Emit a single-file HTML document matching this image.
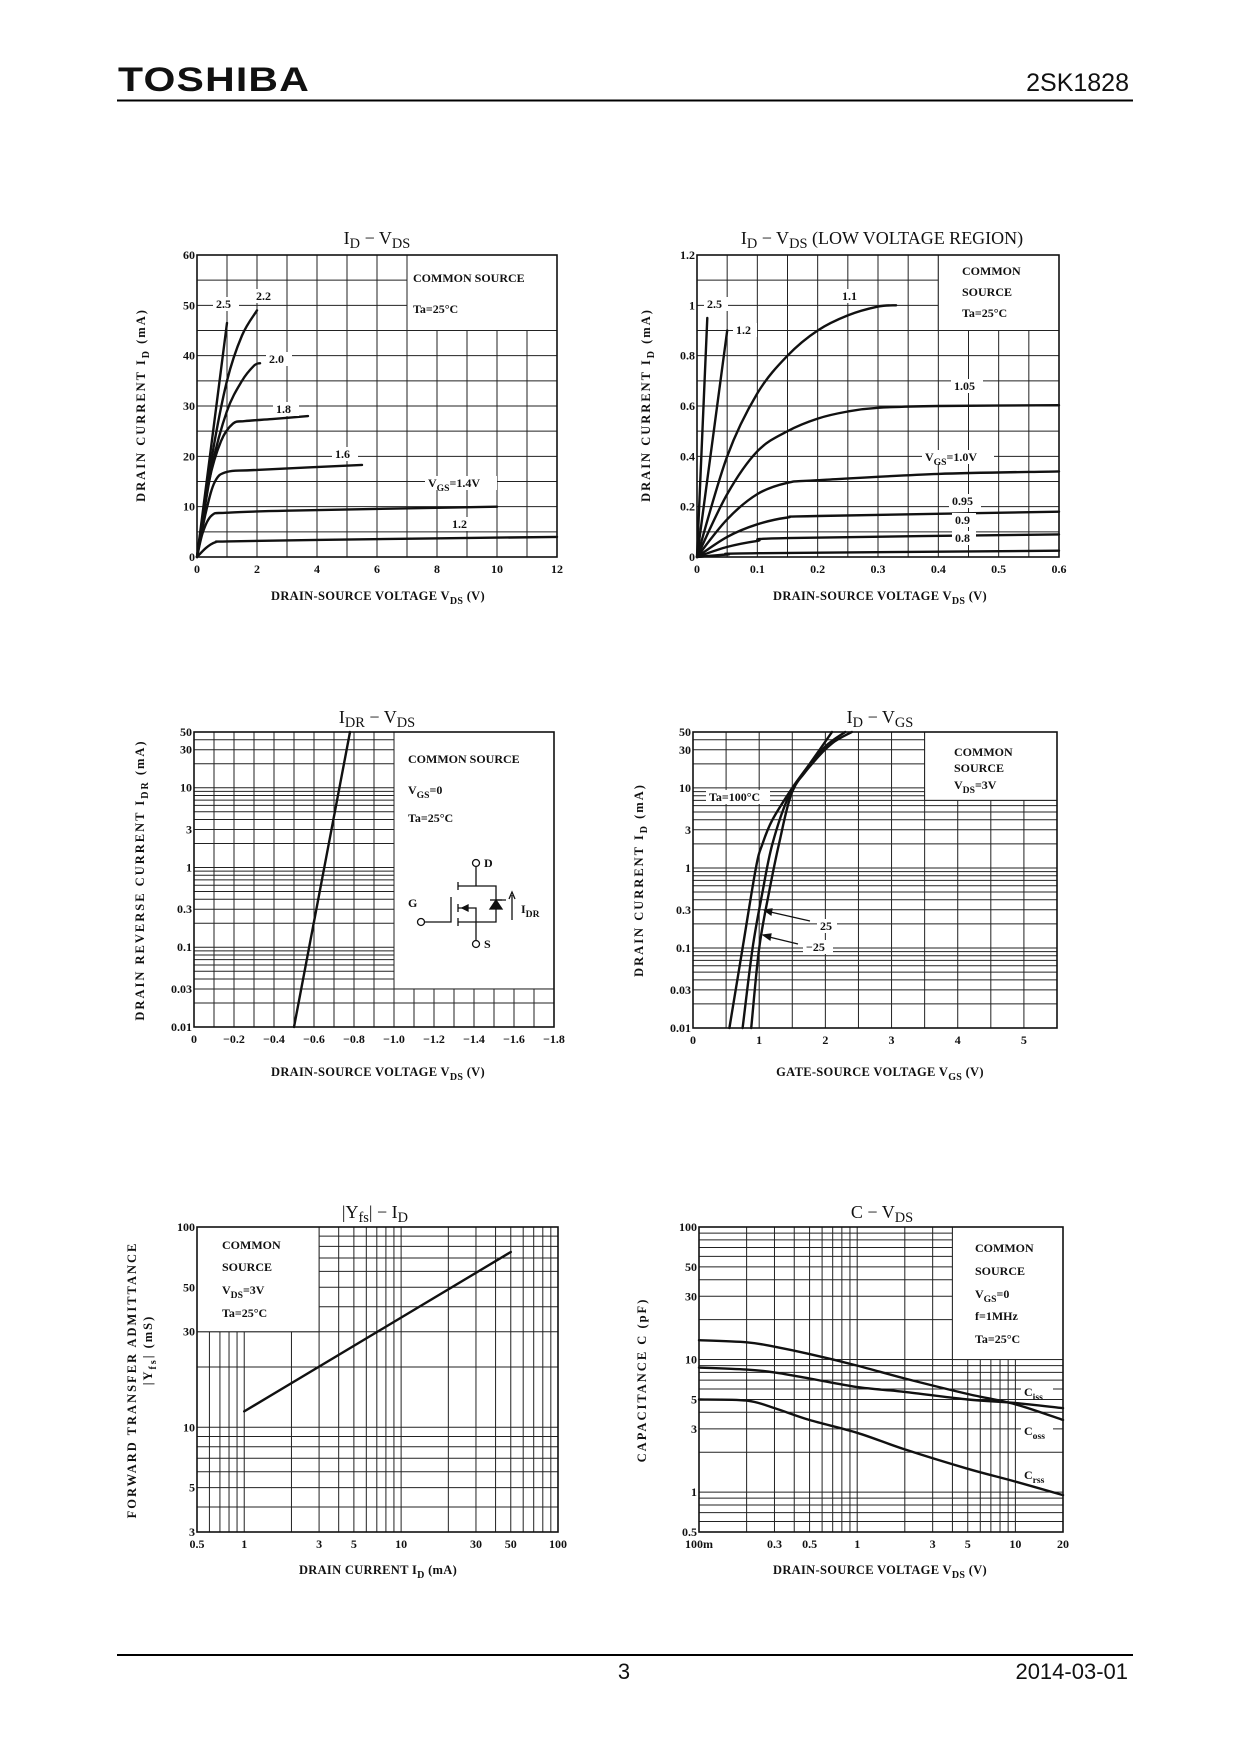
<!DOCTYPE html>
<html><head><meta charset="utf-8"><style>
html,body{margin:0;padding:0;background:#fff}
svg{display:block}
text{font-family:"Liberation Serif",serif;fill:#111}
.t{font-weight:bold;font-size:12px}
.tt{font-size:18px}
.ax{font-size:12.5px;font-weight:bold;letter-spacing:0.3px}
</style></head><body>
<svg id="page" width="1240" height="1754" viewBox="0 0 1240 1754" xmlns="http://www.w3.org/2000/svg">
<text x="118" y="91" style="font-family:'Liberation Sans',sans-serif;font-weight:bold;font-size:34px;letter-spacing:1px" textLength="192" lengthAdjust="spacingAndGlyphs">TOSHIBA</text>
<text x="1129" y="91" text-anchor="end" style="font-family:'Liberation Sans',sans-serif;font-size:25px">2SK1828</text>
<line x1="117" y1="100.5" x2="1133" y2="100.5" stroke="#000" stroke-width="2"/>
<line x1="117" y1="1655" x2="1133" y2="1655" stroke="#000" stroke-width="2"/>
<text x="624" y="1679" text-anchor="middle" style="font-family:'Liberation Sans',sans-serif;font-size:22px">3</text>
<text x="1128" y="1679" text-anchor="end" style="font-family:'Liberation Sans',sans-serif;font-size:22px">2014-03-01</text>
<g id="charts"></g>
</svg>
<script>
// ---- Chart 1: ID - VDS ----
const c1_vgs = ["2.5","2.2","2.0","1.8","1.6","1.4","1.2"];
const c1_v25_x=[0,1.0], c1_v25_y=[0,46.5];
const c1_v22_x=[0,0.5,1,1.5,2], c1_v22_y=[0,20,35,44,49];
const c1_v20_x=[0,0.5,1,1.5,1.9,2.1], c1_v20_y=[0,18,29,35,38,38.5];
const c1_v18_x=[0,0.4,0.8,1.2,1.6,2.5,3.7], c1_v18_y=[0,15,23,26.5,27,27.4,28];
const c1_v16_x=[0,0.3,0.6,1,2,5.5], c1_v16_y=[0,9,15,16.9,17.3,18.3];
const c1_v14_x=[0,0.2,0.5,1,3,10], c1_v14_y=[0,5,8.3,8.8,9.2,10];
const c1_v12_x=[0,0.3,0.6,1,4,12], c1_v12_y=[0,1.8,2.9,3.1,3.4,4];
const c1_xticks=[0,2,4,6,8,10,12], c1_yticks=[0,10,20,30,40,50,60];
// ---- Chart 2: low voltage ----
const c2_v25_x=[0,0.017], c2_v25_y=[0,0.95];
const c2_v12_x=[0,0.05], c2_v12_y=[0,0.9];
const c2_v11_x=[0,0.05,0.1,0.15,0.2,0.25,0.3,0.33], c2_v11_y=[0,0.4,0.65,0.8,0.9,0.96,0.995,1.0];
const c2_v105_x=[0,0.05,0.1,0.15,0.2,0.25,0.3,0.4,0.6], c2_v105_y=[0,0.25,0.42,0.5,0.55,0.578,0.593,0.6,0.603];
const c2_v10_x=[0,0.05,0.1,0.15,0.2,0.4,0.6], c2_v10_y=[0,0.15,0.25,0.295,0.305,0.33,0.34];
const c2_v095_x=[0,0.05,0.1,0.15,0.2,0.6], c2_v095_y=[0,0.08,0.13,0.157,0.163,0.18];
const c2_v09_x=[0,0.05,0.1,0.15,0.6], c2_v09_y=[0,0.04,0.064,0.075,0.09];
const c2_v08_x=[0,0.05,0.1,0.6], c2_v08_y=[0,0.01,0.015,0.025];
const c2_xticks=[0,0.1,0.2,0.3,0.4,0.5,0.6], c2_yticks=[0,0.2,0.4,0.6,0.8,1.0,1.2];
// ---- Chart 3: IDR - VDS ----
const c3_x=[-0.5,-0.78], c3_y=[0.01,50];
const c3_xticks=[0,-0.2,-0.4,-0.6,-0.8,-1.0,-1.2,-1.4,-1.6,-1.8];
const c3_xlabels=["0","\u22120.2","\u22120.4","\u22120.6","\u22120.8","\u22121.0","\u22121.2","\u22121.4","\u22121.6","\u22121.8"];
const c3_yticks=[0.01,0.03,0.1,0.3,1,3,10,30,50];
// ---- Chart 4: ID - VGS ----
const c4_t100_x=[0.55,0.75,0.95,1.05,1.2,1.5,1.8,2.1], c4_t100_y=[0.01,0.1,1,2,4,10,22,50];
const c4_t25_x=[0.75,0.9,1.05,1.2,1.45,1.7,2.0,2.3], c4_t25_y=[0.01,0.1,0.5,2,8,16,33,50];
const c4_tm25_x=[0.88,1.0,1.15,1.3,1.5,1.8,2.1,2.4], c4_tm25_y=[0.01,0.1,0.5,2,9,20,36,50];
const c4_xticks=[0,1,2,3,4,5], c4_yticks=[0.01,0.03,0.1,0.3,1,3,10,30,50];
// ---- Chart 5: |Yfs| - ID ----
const c5_x=[1,50], c5_y=[12,75];
const c5_xticks=[0.5,1,3,5,10,30,50,100], c5_yticks=[3,5,10,30,50,100];
// ---- Chart 6: C - VDS ----
const c6_vds=[0.1,0.2,0.3,0.5,1,2,5,10,20];
const c6_ciss=[14,13.5,12.5,11,9,7.2,5.5,4.6,3.5];
const c6_coss=[8.7,8.4,8,7.2,6.2,5.7,5,4.7,4.3];
const c6_crss=[5,4.9,4.3,3.5,2.8,2.1,1.5,1.2,0.95];
const c6_xticks=[0.1,0.3,0.5,1,3,5,10,20], c6_xlabels=["100m","0.3","0.5","1","3","5","10","20"];
const c6_yticks=[0.5,1,3,5,10,30,50,100];

const NS="http://www.w3.org/2000/svg";
const root=document.getElementById('charts');
function el(tag,attrs,parent){const e=document.createElementNS(NS,tag);for(const k in attrs)e.setAttribute(k,attrs[k]);(parent||root).appendChild(e);return e;}
function mkScale(type,d0,d1,r0,r1){
  if(type==='log'){const a=Math.log10(d0),b=Math.log10(d1);return v=>r0+(Math.log10(v)-a)/(b-a)*(r1-r0);}
  return v=>r0+(v-d0)/(d1-d0)*(r1-r0);
}
function logGrid(a,b){const out=[];for(let e=Math.floor(Math.log10(a));e<=Math.ceil(Math.log10(b));e++){for(let m=1;m<10;m++){const v=m*Math.pow(10,e);if(v>=a*0.999&&v<=b*1.001)out.push(v);}}return out;}
function linGrid(a,b,s){const out=[];for(let v=a;v<=b+1e-9;v+=s)out.push(+v.toFixed(6));return out;}
function pathFrom(pts){
  if(pts.length<3){return 'M'+pts.map(p=>p[0].toFixed(1)+','+p[1].toFixed(1)).join('L');}
  let d='M'+pts[0][0].toFixed(1)+','+pts[0][1].toFixed(1);
  for(let i=0;i<pts.length-1;i++){
    const p0=pts[Math.max(0,i-1)],p1=pts[i],p2=pts[i+1],p3=pts[Math.min(pts.length-1,i+2)];
    const c1=[p1[0]+(p2[0]-p0[0])/6,p1[1]+(p2[1]-p0[1])/6],c2=[p2[0]-(p3[0]-p1[0])/6,p2[1]-(p3[1]-p1[1])/6];
    d+='C'+c1[0].toFixed(1)+','+c1[1].toFixed(1)+' '+c2[0].toFixed(1)+','+c2[1].toFixed(1)+' '+p2[0].toFixed(1)+','+p2[1].toFixed(1);
  }
  return d;
}
function txt(x,y,s,cls,anchor,name,size){
  const t=el('text',{x:x,y:y,'class':cls||'t','text-anchor':anchor||'start'});
  
  
  if(size)t.style.fontSize=size+'px';
  const parts=s.split(/(_\{[^}]*\})/);
  let sub=false;
  parts.forEach(p=>{if(!p)return;const ts=el('tspan',{},t);
    if(p.startsWith('_{')){ts.textContent=p.slice(2,-1);ts.setAttribute('dy','4');ts.style.fontSize='0.8em';sub=true;}
    else{ts.textContent=p;if(sub){ts.setAttribute('dy','-4');sub=false;}}
  });
  return t;
}
function bgLabel(x,y,s,name,w){
  const r=el('rect',{x:x-3,y:y-11,width:w,height:14,fill:'#fff'});
  
  
  txt(x,y,s,'t','start',name);
}
function chart(c){
  const g=el('g',{});
  
  
  const X=mkScale(c.xt,c.x0,c.x1,c.L,c.R), Y=mkScale(c.yt,c.y0,c.y1,c.B,c.T);
  c.xg.forEach(v=>{const l=el('line',{x1:X(v),x2:X(v),y1:c.T,y2:c.B,stroke:'#222','stroke-width':1},g);
    
    });
  c.yg.forEach(v=>{const l=el('line',{x1:c.L,x2:c.R,y1:Y(v),y2:Y(v),stroke:'#222','stroke-width':1},g);
    
    });
  if(c.box){const b=c.box;const r=el('rect',{x:X(b[0]),y:Y(b[3]),width:X(b[1])-X(b[0]),height:Y(b[2])-Y(b[3]),fill:'#fff',stroke:'#222','stroke-width':1},g);
    
    }
  const fr=el('rect',{x:c.L,y:c.T,width:c.R-c.L,height:c.B-c.T,fill:'none',stroke:'#111','stroke-width':1.6},g);
  
  
  c.series.forEach(s=>{
    const pts=s.x.map((v,i)=>[X(v),Y(s.y[i])]);
    const p=el('path',{d:pathFrom(pts),fill:'none',stroke:'#111','stroke-width':2.4,'stroke-linecap':'round'},g);
    
    
  });
  c.xticks.forEach((v,i)=>txt(X(v),c.B+16,c.xlabels?c.xlabels[i]:String(v),'t','middle','x-tick-label'));
  c.yticks.forEach((v,i)=>txt(c.L-2,Y(v)+4,String(v),'t','end','y-tick-label'));
  return {X,Y};
}
const lin='lin',lg='log';
chart({name:'chart-id-vds',xt:lin,yt:lin,x0:0,x1:12,y0:0,y1:60,L:197,R:557,T:255,B:557,
  xg:linGrid(0,12,1),yg:linGrid(0,60,5),box:[7,12,45,60],xticks:c1_xticks,yticks:c1_yticks,
  series:[{name:'curve-vgs-2.5',x:c1_v25_x,y:c1_v25_y},{name:'curve-vgs-2.2',x:c1_v22_x,y:c1_v22_y},{name:'curve-vgs-2.0',x:c1_v20_x,y:c1_v20_y},
  {name:'curve-vgs-1.8',x:c1_v18_x,y:c1_v18_y},{name:'curve-vgs-1.6',x:c1_v16_x,y:c1_v16_y},{name:'curve-vgs-1.4',x:c1_v14_x,y:c1_v14_y},{name:'curve-vgs-1.2',x:c1_v12_x,y:c1_v12_y}]});
bgLabel(216,308,c1_vgs[0],'label-vgs-2.5',26);bgLabel(256,300,c1_vgs[1],'label-vgs-2.2',26);
bgLabel(269,363,c1_vgs[2],'label-vgs-2.0',26);bgLabel(276,413,c1_vgs[3],'label-vgs-1.8',26);
bgLabel(335,458,c1_vgs[4],'label-vgs-1.6',26);bgLabel(428,487,'V_{GS}=1.4V','label-vgs-1.4',72);bgLabel(452,528,c1_vgs[6],'label-vgs-1.2',26);
txt(413,282,'COMMON SOURCE');txt(413,313,'Ta=25°C');
txt(377,244,'I_{D}  \u2212  V_{DS}','tt','middle','chart1-title');
txt(378,600,'DRAIN-SOURCE VOLTAGE   V_{DS}   (V)','ax','middle','chart1-x-title');
chart({name:'chart-id-vds-low',xt:lin,yt:lin,x0:0,x1:0.6,y0:0,y1:1.2,L:697,R:1059,T:255,B:557,
  xg:linGrid(0,0.6,0.05),yg:linGrid(0,1.2,0.1),box:[0.4,0.6,0.9,1.2],xticks:c2_xticks,yticks:c2_yticks,
  series:[{name:'curve-vgs-2.5',x:c2_v25_x,y:c2_v25_y},{name:'curve-vgs-1.2',x:c2_v12_x,y:c2_v12_y},{name:'curve-vgs-1.1',x:c2_v11_x,y:c2_v11_y},
  {name:'curve-vgs-1.05',x:c2_v105_x,y:c2_v105_y},{name:'curve-vgs-1.0',x:c2_v10_x,y:c2_v10_y},{name:'curve-vgs-0.95',x:c2_v095_x,y:c2_v095_y},
  {name:'curve-vgs-0.9',x:c2_v09_x,y:c2_v09_y},{name:'curve-vgs-0.8',x:c2_v08_x,y:c2_v08_y}]});
bgLabel(707,308,'2.5','label-2.5',24);bgLabel(736,334,'1.2','label-1.2',24);bgLabel(842,300,'1.1','label-1.1',24);
bgLabel(954,390,'1.05','label-1.05',32);bgLabel(925,461,'V_{GS}=1.0V','label-1.0',72);bgLabel(952,505,'0.95','label-0.95',32);
bgLabel(955,524,'0.9','label-0.9',24);bgLabel(955,542,'0.8','label-0.8',24);
txt(962,275,'COMMON');txt(962,296,'SOURCE');txt(962,317,'Ta=25°C');
txt(882,244,'I_{D}  \u2212  V_{DS}   (LOW VOLTAGE REGION)','tt','middle','chart2-title');
txt(880,600,'DRAIN-SOURCE VOLTAGE   V_{DS}   (V)','ax','middle','chart2-x-title');
chart({name:'chart-idr-vds',xt:lin,yt:lg,x0:0,x1:-1.8,y0:0.01,y1:50,L:194,R:554,T:732,B:1027,
  xg:linGrid(-1.8,0,0.1),yg:logGrid(0.01,50).concat([50]),box:[-1.0,-1.8,0.03,50],xticks:c3_xticks,xlabels:c3_xlabels,yticks:c3_yticks,
  series:[{name:'curve-idr',x:c3_x,y:c3_y}]});
txt(408,763,'COMMON SOURCE');txt(408,794,'V_{GS}=0');txt(408,822,'Ta=25°C');
txt(377,723,'I_{DR}  \u2212  V_{DS}','tt','middle','chart3-title');
txt(378,1076,'DRAIN-SOURCE VOLTAGE   V_{DS}   (V)','ax','middle','chart3-x-title');
(function(){const g=el('g',{fill:'none',stroke:'#111','stroke-width':1.3});


el('circle',{cx:476,cy:863,r:3.5},g);el('circle',{cx:476,cy:944,r:3.5},g);el('circle',{cx:421,cy:922,r:3.5},g);
el('path',{d:'M476,867V886H496V922H476V940M425,922H451V897M458,882V890M458,904V912M458,918V926M458,886H476M458,922H476M458,908H476V922M496,900H506'},g);
el('path',{d:'M496,900L490,909H502Z',fill:'#111'},g);el('path',{d:'M490,900H502'},g);
el('path',{d:'M512,920V895M509,899L512,892L515,899',fill:'none'},g);
el('path',{d:'M462,908L468,905V911Z',fill:'#111'},g);
txt(484,867,'D');txt(484,948,'S');txt(408,907,'G');txt(521,913,'I_{DR}');})();
chart({name:'chart-id-vgs',xt:lin,yt:lg,x0:0,x1:5.5,y0:0.01,y1:50,L:693,R:1057,T:732,B:1028,
  xg:linGrid(0,5.5,0.5),yg:logGrid(0.01,50).concat([50]),box:[3.5,5.5,7,50],xticks:c4_xticks,yticks:c4_yticks,
  series:[{name:'curve-ta-100',x:c4_t100_x,y:c4_t100_y},{name:'curve-ta-25',x:c4_t25_x,y:c4_t25_y},{name:'curve-ta-minus25',x:c4_tm25_x,y:c4_tm25_y}]});
bgLabel(709,801,'Ta=100°C','label-ta-100',64);
bgLabel(820,930,'25','label-ta-25',20);bgLabel(806,951,'\u221225','label-ta-minus25',30);
(function(){const g=el('g',{stroke:'#111','stroke-width':1.2,fill:'#111'});


el('path',{d:'M810,921L766,911',fill:'none'},g);el('path',{d:'M764,910L772,909L771,915Z'},g);
el('path',{d:'M798,944L765,936',fill:'none'},g);el('path',{d:'M763,935L771,934L770,940Z'},g);})();
txt(954,756,'COMMON');txt(954,772,'SOURCE');txt(954,789,'V_{DS}=3V');
txt(880,723,'I_{D}  \u2212  V_{GS}','tt','middle','chart4-title');
txt(880,1076,'GATE-SOURCE VOLTAGE   V_{GS}   (V)','ax','middle','chart4-x-title');
chart({name:'chart-yfs-id',xt:lg,yt:lg,x0:0.5,x1:100,y0:3,y1:100,L:197,R:558,T:1227,B:1532,
  xg:logGrid(0.5,100),yg:logGrid(3,100),box:[0.5,3,30,100],xticks:c5_xticks,yticks:c5_yticks,
  series:[{name:'curve-yfs',x:c5_x,y:c5_y}]});
txt(222,1249,'COMMON');txt(222,1271,'SOURCE');txt(222,1294,'V_{DS}=3V');txt(222,1317,'Ta=25°C');
txt(375,1218,'|Y_{fs}|  \u2212  I_{D}','tt','middle','chart5-title');
txt(378,1574,'DRAIN CURRENT   I_{D}   (mA)','ax','middle','chart5-x-title');
chart({name:'chart-c-vds',xt:lg,yt:lg,x0:0.1,x1:20,y0:0.5,y1:100,L:699,R:1063,T:1227,B:1532,
  xg:logGrid(0.1,20),yg:logGrid(0.5,100),box:[4,20,10,100],xticks:c6_xticks,xlabels:c6_xlabels,yticks:c6_yticks,
  series:[{name:'curve-ciss',x:c6_vds,y:c6_ciss},{name:'curve-coss',x:c6_vds,y:c6_coss},{name:'curve-crss',x:c6_vds,y:c6_crss}]});
bgLabel(1024,1396,'C_{iss}','label-ciss',32);bgLabel(1024,1435,'C_{oss}','label-coss',32);bgLabel(1024,1479,'C_{rss}','label-crss',32);
txt(975,1252,'COMMON');txt(975,1275,'SOURCE');txt(975,1298,'V_{GS}=0');txt(975,1320,'f=1MHz');txt(975,1343,'Ta=25°C');
txt(882,1218,'C  \u2212  V_{DS}','tt','middle','chart6-title');
txt(880,1574,'DRAIN-SOURCE VOLTAGE   V_{DS}   (V)','ax','middle','chart6-x-title');
function ytitle(x,y,s,name){const t=txt(0,0,s,'ax','middle',name);t.setAttribute('transform','translate('+x+','+y+') rotate(-90)');t.style.letterSpacing='2px';}
ytitle(145,405,'DRAIN  CURRENT   I_{D}    (mA)','chart1-y-title');
ytitle(650,405,'DRAIN  CURRENT   I_{D}    (mA)','chart2-y-title');
ytitle(144,880,'DRAIN REVERSE CURRENT   I_{DR}   (mA)','chart3-y-title');
ytitle(643,880,'DRAIN CURRENT   I_{D}    (mA)','chart4-y-title');
ytitle(136,1380,'FORWARD  TRANSFER  ADMITTANCE','chart5-y-title');
ytitle(152,1350,'|Y_{fs}|   (mS)','chart5-y-unit');
ytitle(646,1380,'CAPACITANCE   C    (pF)','chart6-y-title');
</script>
</body></html>
